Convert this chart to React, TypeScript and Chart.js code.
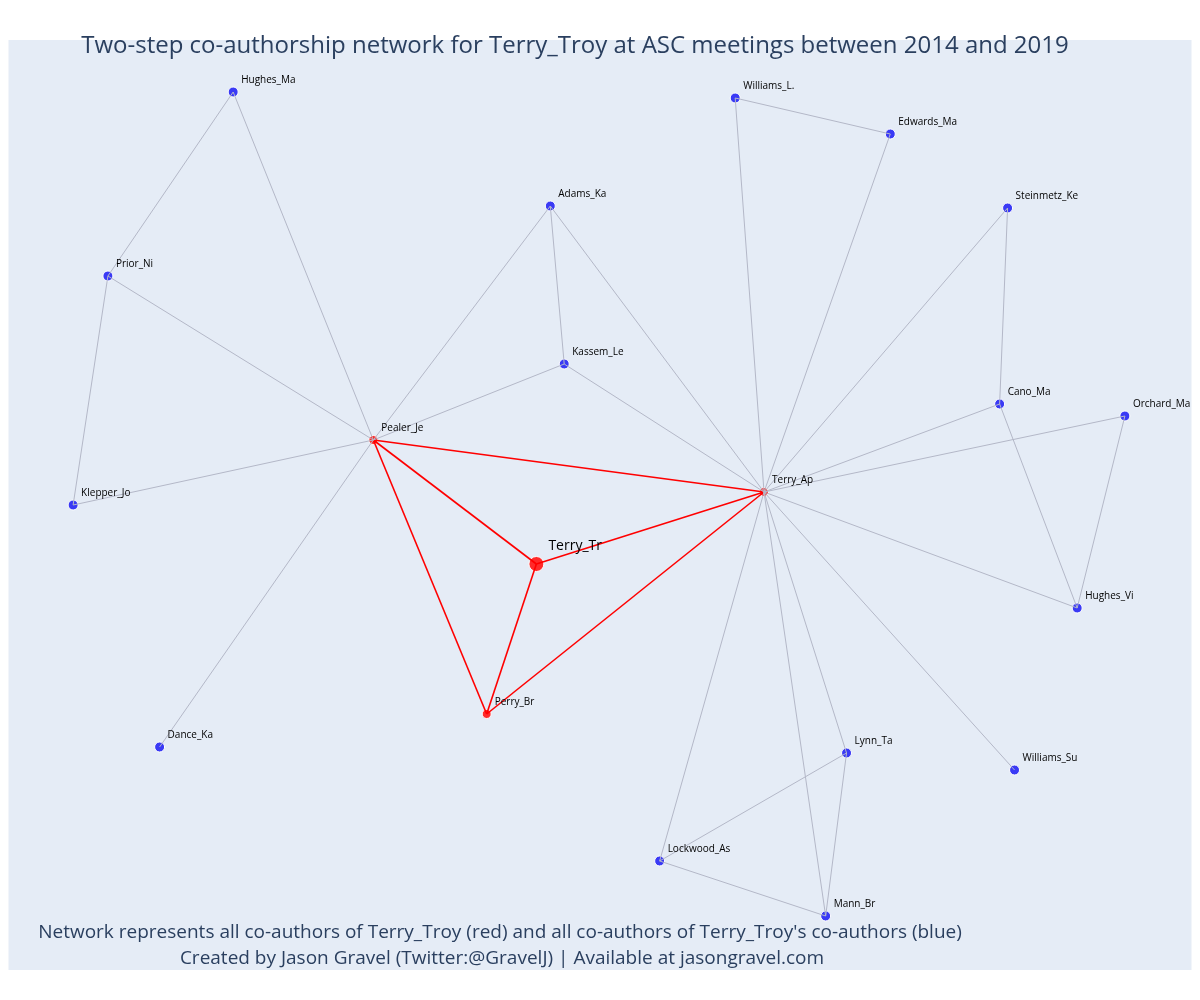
import React, { useEffect, useRef } from "react";
import { Chart, registerables } from "chart.js";

Chart.register(...registerables);

const nodeNames = ["Hughes_Ma", "Williams_L.", "Edwards_Ma", "Adams_Ka", "Steinmetz_Ke", "Prior_Ni", "Kassem_Le", "Cano_Ma", "Orchard_Ma", "Pealer_Je", "Terry_Ap", "Klepper_Jo", "Terry_Tr", "Hughes_Vi", "Perry_Br", "Dance_Ka", "Lynn_Ta", "Williams_Su", "Lockwood_As", "Mann_Br"];
const nodeX = [231, 736, 892, 550, 1010, 105, 564, 1002, 1128, 372, 765, 70, 536, 1080, 486, 157, 848, 1017, 660, 827];
const nodeY = [92, 98, 134, 206, 208, 276, 364, 404, 416, 440, 492, 505, 564, 608, 714, 747, 753, 770, 861, 916];
const redNodes = ["Pealer_Je", "Terry_Ap", "Terry_Tr", "Perry_Br"];

const greyEdges: [string, string][] = [
  ["Hughes_Ma", "Prior_Ni"], ["Hughes_Ma", "Pealer_Je"], ["Prior_Ni", "Pealer_Je"], ["Prior_Ni", "Klepper_Jo"],
  ["Klepper_Jo", "Pealer_Je"], ["Dance_Ka", "Pealer_Je"], ["Adams_Ka", "Pealer_Je"], ["Adams_Ka", "Kassem_Le"],
  ["Adams_Ka", "Terry_Ap"], ["Kassem_Le", "Pealer_Je"], ["Kassem_Le", "Terry_Ap"], ["Williams_L.", "Edwards_Ma"],
  ["Williams_L.", "Terry_Ap"], ["Edwards_Ma", "Terry_Ap"], ["Steinmetz_Ke", "Cano_Ma"], ["Steinmetz_Ke", "Terry_Ap"],
  ["Cano_Ma", "Terry_Ap"], ["Cano_Ma", "Hughes_Vi"], ["Orchard_Ma", "Terry_Ap"], ["Orchard_Ma", "Hughes_Vi"],
  ["Hughes_Vi", "Terry_Ap"], ["Williams_Su", "Terry_Ap"], ["Lynn_Ta", "Terry_Ap"], ["Lynn_Ta", "Lockwood_As"],
  ["Lynn_Ta", "Mann_Br"], ["Lockwood_As", "Terry_Ap"], ["Lockwood_As", "Mann_Br"], ["Mann_Br", "Terry_Ap"],
];
const redEdges: [string, string][] = [
  ["Pealer_Je", "Terry_Ap"], ["Pealer_Je", "Terry_Tr"], ["Pealer_Je", "Perry_Br"],
  ["Terry_Tr", "Terry_Ap"], ["Terry_Tr", "Perry_Br"], ["Perry_Br", "Terry_Ap"],
];

const titleText = "Two-step co-authorship network for Terry_Troy at ASC meetings between 2014 and 2019";
const footer1 = "Network represents all co-authors of Terry_Troy (red) and all co-authors of Terry_Troy's co-authors (blue)";
const footer2 = "Created by Jason Gravel (Twitter:@GravelJ) | Available at jasongravel.com";

const pt = (n: string) => {
  const i = nodeNames.indexOf(n);
  return { x: nodeX[i], y: nodeY[i] };
};

const App = () => {
  const ref = useRef<HTMLCanvasElement>(null);
  useEffect(() => {
    if (!ref.current) return;
    const edgeSet = (edges: [string, string][], color: string, w: number) =>
      edges.map(([a, b]) => ({
        type: "line" as const,
        data: [pt(a), pt(b)],
        borderColor: color,
        borderWidth: w,
        pointRadius: 0,
        showLine: true,
      }));
    const deco = {
      id: "deco",
      beforeDraw(c: any) {
        const { ctx, chartArea: a } = c;
        ctx.save();
        ctx.fillStyle = "#e5ecf6";
        ctx.fillRect(a.left, a.top, a.right - a.left, a.bottom - a.top);
        ctx.restore();
      },
      afterDraw(c: any) {
        const ctx = c.ctx;
        const xs = c.scales.x, ys = c.scales.y;
        ctx.save();
        ctx.textBaseline = "alphabetic";
        nodeNames.forEach((n, i) => {
          const big = n === "Terry_Tr";
          ctx.font = big ? "14px 'Open Sans'" : "10px 'Open Sans'";
          ctx.fillStyle = "#000";
          ctx.textAlign = "left";
          ctx.fillText(n, xs.getPixelForValue(nodeX[i]) + (big ? 12 : 8), ys.getPixelForValue(nodeY[i]) - (big ? 14 : 9));
        });
        ctx.fillStyle = "#2a3f5f";
        ctx.font = "24px 'Open Sans'";
        ctx.textAlign = "center";
        ctx.fillText(titleText, 575, 53);
        ctx.font = "19px 'Open Sans'";
        ctx.fillText(footer1, 500, 938);
        ctx.fillText(footer2, 502, 964);
        ctx.restore();
      },
    };
    const chart = new Chart(ref.current, {
      type: "scatter",
      data: {
        datasets: [
          ...edgeSet(greyEdges, "#b4b8c8", 1),
          ...edgeSet(redEdges, "#ff0000", 1.6),
          {
            type: "scatter" as const,
            data: nodeNames.map((n) => pt(n)),
            pointRadius: nodeNames.map((n) => (n === "Terry_Tr" ? 7.5 : redNodes.includes(n) ? 4.5 : 5)),
            pointBackgroundColor: nodeNames.map((n) => (redNodes.includes(n) ? "#ff2a2a" : "#3a3af5")),
            pointBorderColor: "#ffffff",
            pointBorderWidth: 1,
          } as any,
        ],
      },
      options: {
        animation: false,
        responsive: true,
        maintainAspectRatio: false,
        layout: { padding: { left: 5, right: 5, top: 40, bottom: 30 } },
        scales: {
          x: { type: "linear", min: 5, max: 1195, display: false },
          y: { type: "linear", min: 40, max: 970, reverse: true, display: false },
        },
        plugins: { legend: { display: false }, tooltip: { enabled: false } },
      },
      plugins: [deco],
    });
    return () => chart.destroy();
  }, []);
  return (
    <div style={{ width: 1200, height: 1000, margin: -8, background: "#fff" }}>
      <canvas ref={ref} />
    </div>
  );
};

export default App;
